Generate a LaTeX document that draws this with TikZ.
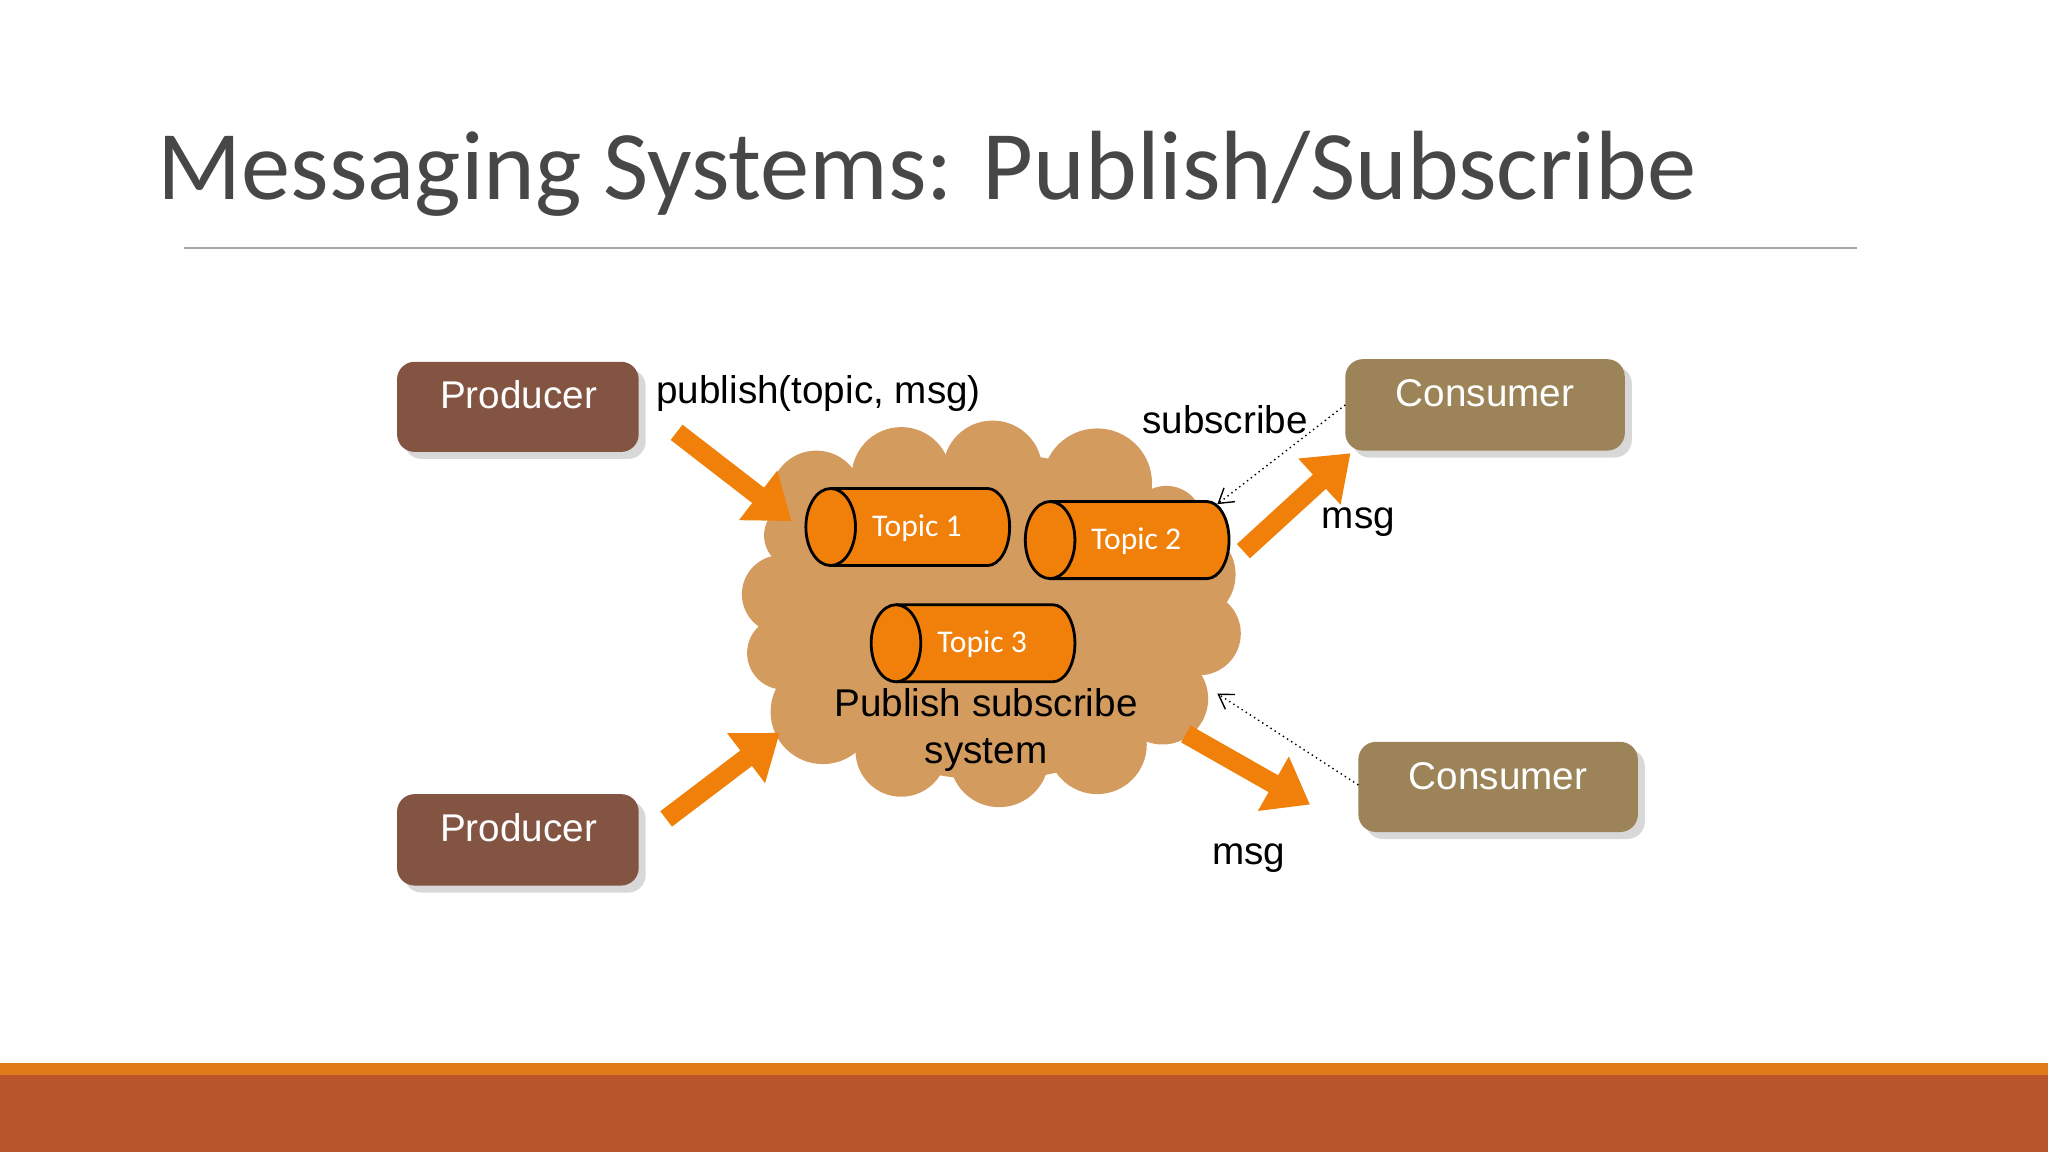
\documentclass[tikz,border=0pt]{standalone}
\usepackage{fontspec}
\setmainfont{Liberation Sans}
\newfontfamily\titlefont{Carlito}
\usetikzlibrary{arrows.meta,shadows}
\definecolor{prod}{HTML}{845443}
\definecolor{cons}{HTML}{9C8458}
\definecolor{cloudc}{HTML}{D49B5E}
\definecolor{topicc}{HTML}{F0800A}
\definecolor{barc}{HTML}{B9552B}
\definecolor{stripc}{HTML}{E07B1A}
\begin{document}
\begin{tikzpicture}[x=0.013061cm,y=-0.013061cm,
  shad/.style={drop shadow={opacity=0.3,shadow xshift=2pt,shadow yshift=-2pt}},
  big/.style={draw=topicc,line width=5.5pt,-{Triangle[length=12pt,width=17pt]}},
  sub/.style={densely dotted,thin,-{Straight Barb[length=4pt,width=5pt]}},
  lab/.style={font=\fontsize{11}{13.5}\selectfont}]
\useasboundingbox (0,0) rectangle (1568,882);
\fill[white] (0,0) rectangle (1568,882);
\node[anchor=base west,inner sep=0,text=black!72,font=\titlefont\fontsize{28}{32}\selectfont] (title) at (120,153) {Messaging Systems: Publish/Subscribe};
\draw[gray!70,line width=0.6pt] (141,190) -- (1422,190);
\fill[stripc] (0,814) rectangle (1568,823);
\fill[barc] (0,823) rectangle (1568,882);
% cloud
\fill[cloudc] (759,472) ellipse (170 and 125);
\foreach \x/\y/\r in {625/380/35,690/365/38,760/360/38,840/370/42,893/400/28,910/440/36,918/485/32,890/535/35,840/570/38,765/580/38,690/575/35,630/545/40,600/500/28,598/455/30,610/410/25}
  \fill[cloudc] (\x,\y) circle (\r);
% topics
\foreach \n/\x/\y/\t in {t1/617/374/Topic 1,t2/785/384/Topic 2,t3/667/463/Topic 3}{
  \draw[fill=topicc,line width=0.8pt] (\x+19,\y) -- (\x+139,\y) arc[start angle=-90,end angle=90,x radius=17,y radius=29.5] -- (\x+19,\y+59);
  \draw[fill=topicc,line width=0.8pt] (\x+19,\y+29.5) ellipse (19 and 29.5);
  \node[text=white,font=\titlefont\fontsize{9}{11}\selectfont] (\n) at (\x+85,\y+30) {\t};
}
\node[lab,align=center] (pss) at (755,559) {Publish subscribe\\system};
% boxes
\fill[prod,shad,rounded corners=5pt] (304,277) rectangle (489,346);
\fill[prod,shad,rounded corners=5pt] (304,608) rectangle (489,678);
\fill[cons,shad,rounded corners=5pt] (1030,275) rectangle (1244,345);
\fill[cons,shad,rounded corners=5pt] (1040,568) rectangle (1254,637);
\node[lab,text=white] (prod1) at (397,302) {Producer};
\node[lab,text=white] (prod2) at (397,634) {Producer};
\node[lab,text=white] (cons1) at (1137,301) {Consumer};
\node[lab,text=white] (cons2) at (1147,594) {Consumer};
\coordinate (c1l) at (1030,310);
\coordinate (c2l) at (1040,601);
\coordinate (s1) at (932,386);
\coordinate (s2) at (932,531);
% arrows
\coordinate (a1s) at (518,331); \coordinate (a1e) at (606,399);
\coordinate (a2s) at (510,627); \coordinate (a2e) at (597,561);
\coordinate (a3s) at (952,422); \coordinate (a3e) at (1034,347);
\coordinate (a4s) at (908,562); \coordinate (a4e) at (1003,616);
\draw[big] (a1s) -- (a1e);
\draw[big] (a2s) -- (a2e);
\draw[big] (a3s) -- (a3e);
\draw[big] (a4s) -- (a4e);
\draw[sub] (c1l) -- (s1);
\draw[sub] (c2l) -- (s2);
\node[lab,anchor=west,inner sep=0] (publ) at (502,301) {publish(topic, msg)};
\node[lab,anchor=west,inner sep=0] (subl) at (874,321) {subscribe};
\node[lab] (m1) at (1040,400) {msg};
\node[lab] (m2) at (956,657) {msg};
\end{tikzpicture}
\end{document}
